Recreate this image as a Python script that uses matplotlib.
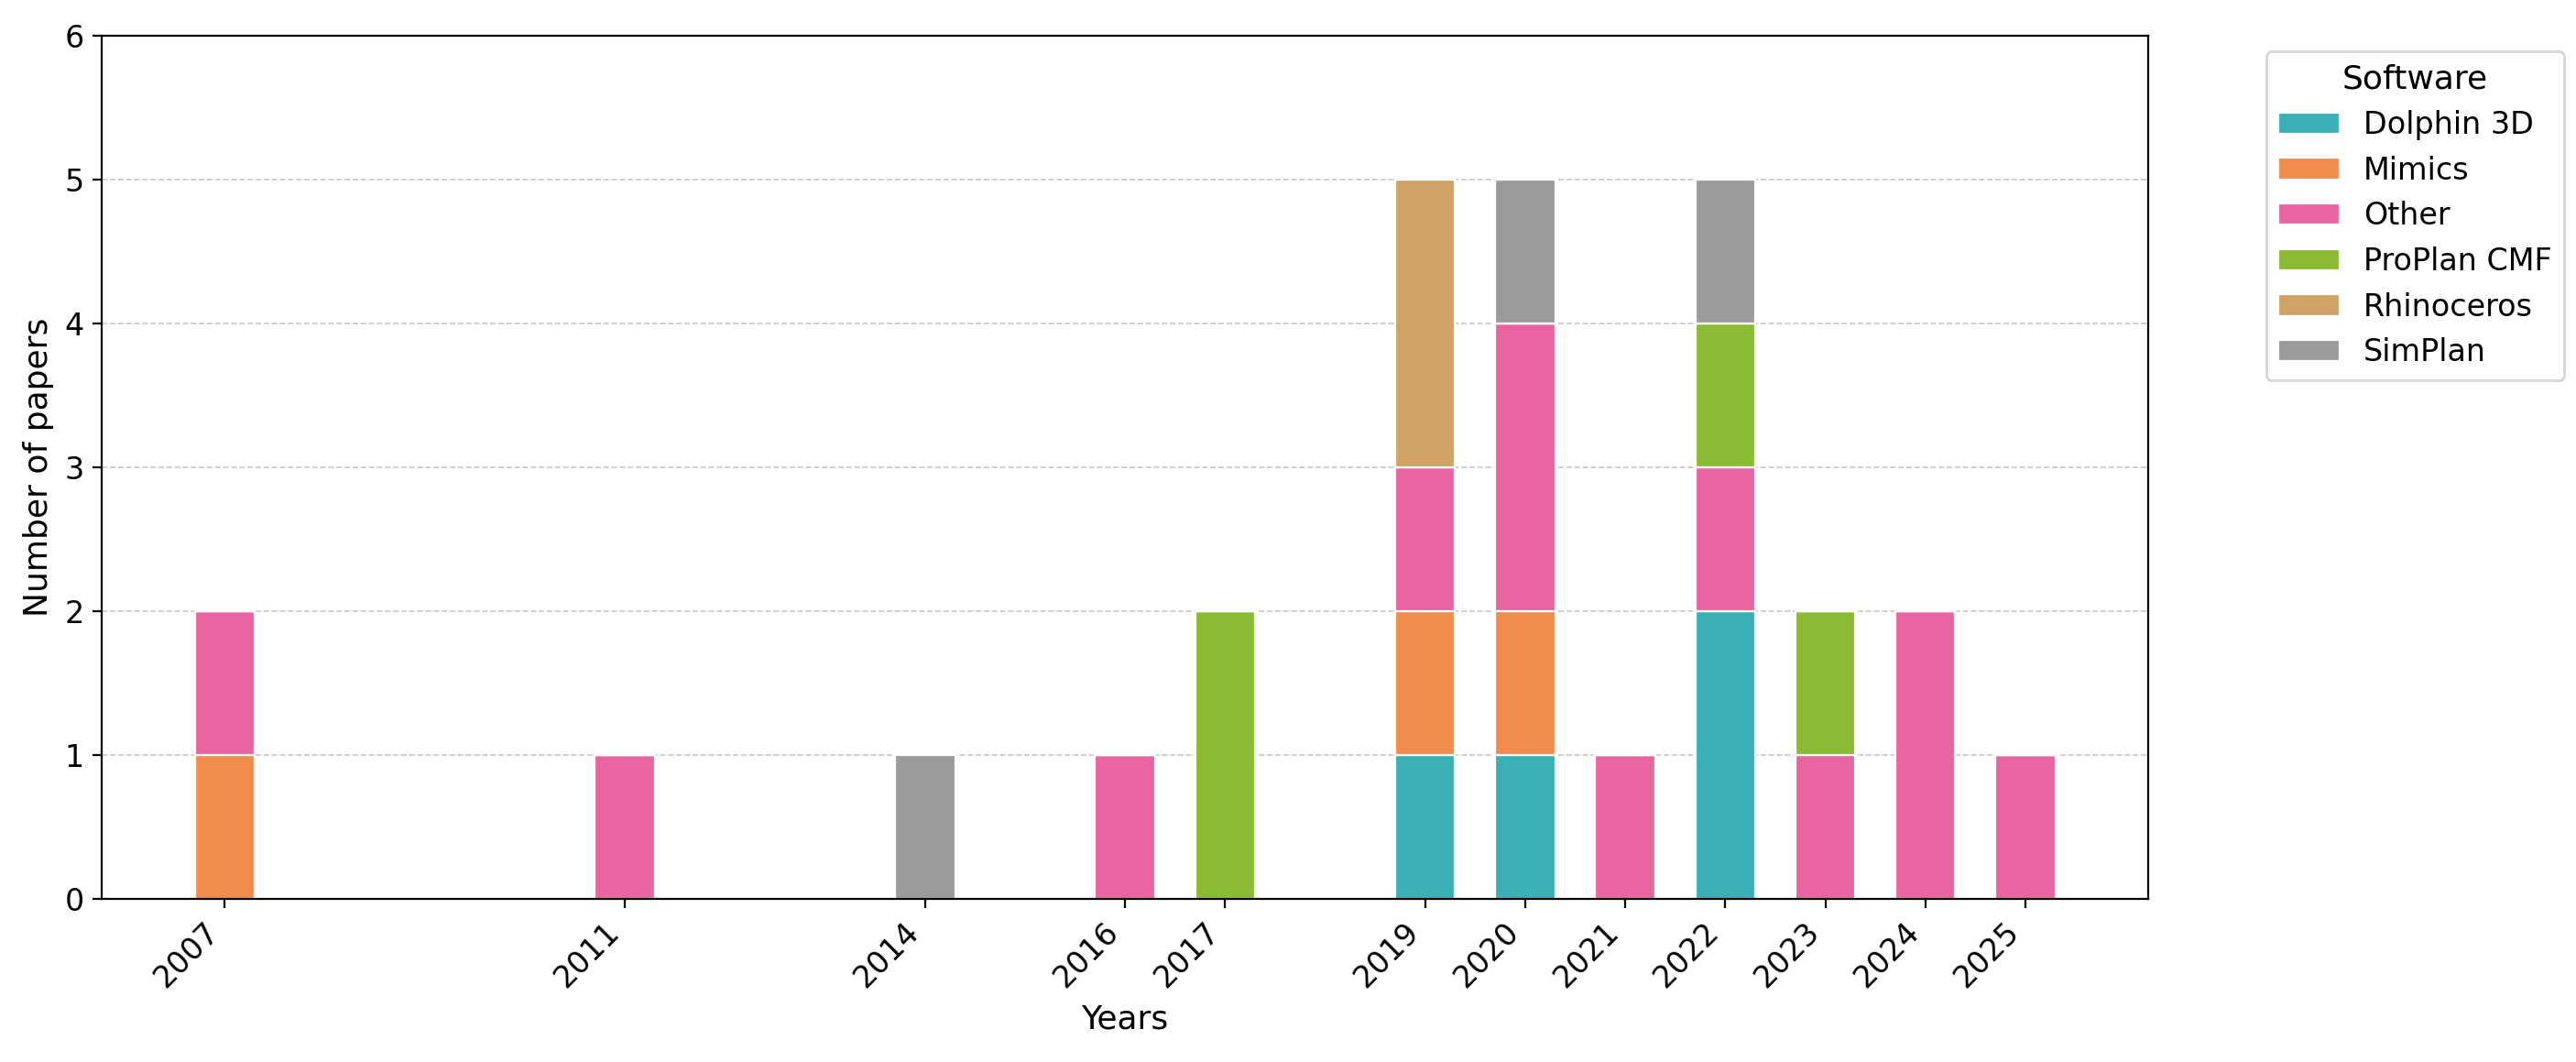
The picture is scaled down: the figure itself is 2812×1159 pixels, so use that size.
import matplotlib
matplotlib.use("Agg")
import matplotlib.pyplot as plt
import numpy as np

# Papers per year, stacked by software
years = [2007, 2011, 2014, 2016, 2017, 2019, 2020, 2021, 2022, 2023, 2024, 2025]
software = ["Dolphin 3D", "Mimics", "Other", "ProPlan CMF", "Rhinoceros", "SimPlan"]
dolphin_3d = [0, 0, 0, 0, 0, 1, 1, 0, 2, 0, 0, 0]
mimics = [1, 0, 0, 0, 0, 1, 1, 0, 0, 0, 0, 0]
other = [1, 1, 0, 1, 0, 1, 2, 1, 1, 1, 2, 1]
proplan_cmf = [0, 0, 0, 0, 2, 0, 0, 0, 1, 1, 0, 0]
rhinoceros = [0, 0, 0, 0, 0, 2, 0, 0, 0, 0, 0, 0]
simplan = [0, 0, 1, 0, 0, 0, 1, 0, 1, 0, 0, 0]
colors = ["#3AAFB6", "#F28C4C", "#E865A2", "#8BBB33", "#CFA266", "#9B9B9D"]


def main():
    series = [dolphin_3d, mimics, other, proplan_cmf, rhinoceros, simplan]

    fig, ax = plt.subplots(figsize=(14.06, 5.795), dpi=200)
    fig.subplots_adjust(left=0.0395, right=0.834, top=0.966, bottom=0.1536)

    bottom = np.zeros(len(years))
    for name, vals, col in zip(software, series, colors):
        vals = np.array(vals, dtype=float)
        ax.bar(years, vals, width=0.6, bottom=bottom, color=col,
               edgecolor="white", linewidth=0.8, label=name)
        bottom += vals

    ax.set_ylim(0, 6)
    ax.set_xticks(years)
    ax.set_xticklabels([str(y) for y in years], rotation=45, ha="right",
                       fontsize=12)
    ax.tick_params(axis="y", labelsize=12)
    ax.set_xlabel("Years", fontsize=13)
    ax.set_ylabel("Number of papers", fontsize=13)
    ax.set_axisbelow(True)
    ax.grid(axis="y", linestyle="--", color="#bbbbbb", linewidth=0.6, alpha=0.8)

    ax.legend(title="Software", bbox_to_anchor=(1.05, 1), loc="upper left",
              fontsize=12, title_fontsize=13)

    fig.savefig("out.png", dpi=200)


if __name__ == '__main__':
    main()
